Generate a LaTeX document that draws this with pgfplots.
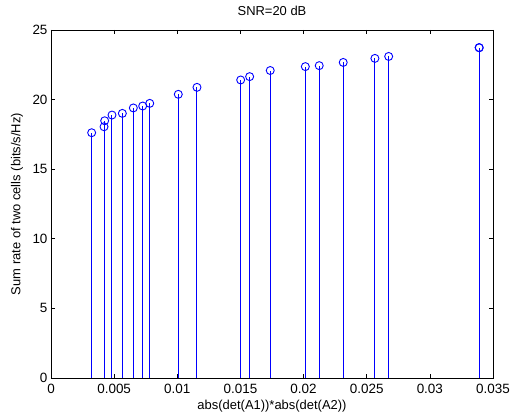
\documentclass[border=0pt]{standalone}
\usepackage{pgfplots}
\pgfplotsset{compat=1.18}
\usepackage{fontspec}
\setmainfont{Liberation Sans}
\definecolor{mblue}{rgb}{0,0,1}
\newcommand{\tf}{\fontsize{13.5}{16}\selectfont}
\newcommand{\lf}{\fontsize{13}{16}\selectfont}
\begin{document}
\begin{tikzpicture}
\useasboundingbox (-51bp,-37bp) rectangle (467bp,378bp);
\begin{axis}[
  at={(0,0)}, anchor=south west,
  width=442bp, height=348bp, scale only axis,
  xmin=0, xmax=0.035, ymin=0, ymax=25,
  scaled x ticks=false, scaled y ticks=false,
  xtick={0,0.005,0.01,0.015,0.02,0.025,0.03,0.035},
  xticklabels={0,0.005,0.01,0.015,0.02,0.025,0.03,0.035},
  ytick={0,5,10,15,20,25},
  yticklabels={0,5,10,15,20,25},
  tick align=inside, tick pos=both,
  major tick length=4bp,
  axis line style={line width=0.8pt},
  every tick/.style={black, line width=0.6pt},
  ticklabel style={font=\tf},
  xticklabel style={yshift=-2.5bp},
  /pgf/number format/assume math mode=true,
  title={SNR=20 dB},
  title style={font=\lf, at={(axis description cs:0.5,1.038)}, anchor=center},
  xlabel={abs(det(A1))*abs(det(A2))},
  xlabel style={font=\lf, at={(axis description cs:0.5,-0.082)}, anchor=center},
  ylabel={Sum rate of two cells (bits/s/Hz)},
  ylabel style={font=\lf, at={(axis description cs:-0.077,0.5)}, anchor=center},
  clip=false,
]
\addplot[ycomb, color=mblue, line width=1bp, mark=o, mark size=4bp, mark options={solid, draw=mblue, line width=0.9bp}] coordinates {
(0.00322,17.62)
(0.00420,18.05)
(0.00425,18.48)
(0.00483,18.89)
(0.00565,19.01)
(0.00652,19.40)
(0.00726,19.54)
(0.00782,19.73)
(0.01008,20.38)
(0.01156,20.88)
(0.01502,21.41)
(0.01573,21.65)
(0.01736,22.09)
(0.02014,22.37)
(0.02124,22.44)
(0.02314,22.67)
(0.02565,22.96)
(0.02674,23.10)
(0.03390,23.74)
(0.03391,23.72)
};
\end{axis}
\end{tikzpicture}
\end{document}
